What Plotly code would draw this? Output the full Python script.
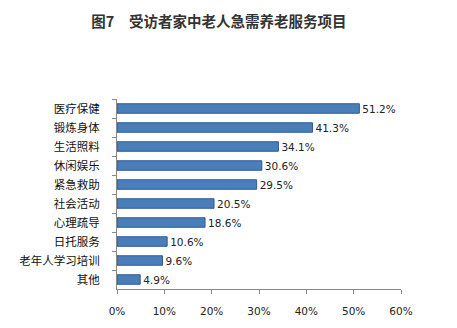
import plotly.graph_objects as go

# Survey results: services most urgently needed by older family members
categories = ["医疗保健", "锻炼身体", "生活照料", "休闲娱乐", "紧急救助",
              "社会活动", "心理疏导", "日托服务", "老年人学习培训", "其他"]
values = [51.2, 41.3, 34.1, 30.6, 29.5, 20.5, 18.6, 10.6, 9.6, 4.9]
x_ticks = [0, 10, 20, 30, 40, 50, 60]

fig = go.Figure()
fig.add_trace(go.Bar(
    y=categories,
    x=values,
    orientation="h",
    width=0.5,
    marker=dict(color="#4a7ebb", line=dict(color="#2d5b92", width=1)),
    text=[f"{v:.1f}%" for v in values],
    textposition="outside",
    constraintext="none",
    textfont=dict(family="DejaVu Sans, sans-serif", size=10.5, color="#222222"),
    cliponaxis=False,
))

fig.update_layout(
    width=457, height=328,
    margin=dict(l=117, r=56, t=99, b=39),
    paper_bgcolor="white", plot_bgcolor="white",
    showlegend=False,
    title=dict(
        text="<b>图7　受访者家中老人急需养老服务项目</b>",
        x=0.479, xanchor="center", y=0.933, yanchor="middle",
        font=dict(family="Noto Sans CJK SC", size=14.5, color="#333333"),
    ),
    font=dict(family="Noto Sans CJK SC", size=11.5, color="#111111"),
)

fig.update_xaxes(
    range=[0, 60], tickvals=x_ticks, ticktext=[f"{t}%" for t in x_ticks],
    showgrid=False, zeroline=False,
    showline=True, linecolor="#888888", linewidth=1,
    ticks="outside", ticklen=4, tickcolor="#888888",
    tickfont=dict(family="DejaVu Sans, sans-serif", size=10.5, color="#222222"),
    ticklabelstandoff=8,
)
fig.update_yaxes(
    categoryorder="array", categoryarray=categories, autorange="reversed",
    showgrid=False, zeroline=False,
    showline=True, linecolor="#888888", linewidth=1,
    ticks="outside", ticklen=4, tickcolor="#888888", tickson="boundaries",
    tickfont=dict(family="Noto Sans CJK SC", size=11.5, color="#111111"),
    ticklabelstandoff=14,
)

fig.write_html("out.html")
